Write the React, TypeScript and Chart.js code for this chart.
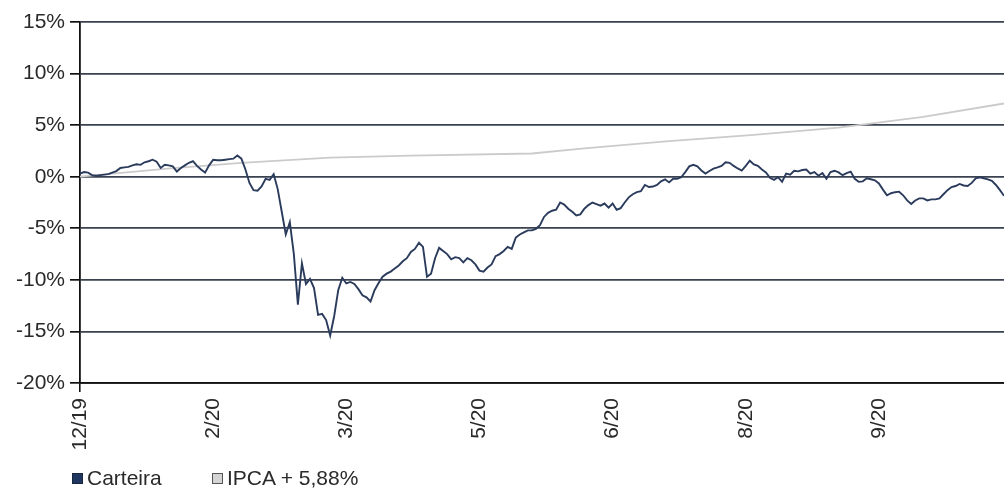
import React, { useEffect, useRef } from 'react';
import { Chart, registerables } from 'chart.js';

Chart.register(...registerables);

// Tick labels shown on the x axis, one every TICK_EVERY points
const tickLabels = ['12/19', '2/20', '3/20', '5/20', '6/20', '8/20', '9/20'];
const TICK_EVERY = 33;

// Carteira cumulative return (%)
const carteira = [
  0.3, 0.45, 0.4, 0.15, 0.1, 0.15, 0.2, 0.25, 0.4, 0.55,
  0.85, 0.9, 0.95, 1.1, 1.2, 1.15, 1.4, 1.5, 1.65, 1.45,
  0.85, 1.15, 1.1, 1.0, 0.5, 0.85, 1.1, 1.35, 1.5, 1.05,
  0.7, 0.4, 1.1, 1.65, 1.6, 1.6, 1.65, 1.7, 1.75, 2.05,
  1.75, 0.7, -0.6, -1.3, -1.35, -0.95, -0.2, -0.3, 0.25, -1.2,
  -3.4, -5.6, -4.4, -7.5, -12.4, -8.4, -10.4, -9.9, -10.8, -13.4,
  -13.3, -13.9, -15.4, -13.5, -11.0, -9.8, -10.35, -10.2, -10.4, -10.9,
  -11.5, -11.7, -12.1, -11.0, -10.3, -9.7, -9.4, -9.2, -8.9, -8.6,
  -8.2, -7.9, -7.3, -7.0, -6.4, -6.8, -9.7, -9.4, -7.9, -6.9,
  -7.2, -7.5, -8.0, -7.8, -7.9, -8.3, -7.9, -8.1, -8.5, -9.1,
  -9.2, -8.8, -8.5, -7.7, -7.5, -7.2, -6.8, -7.0, -5.9, -5.6,
  -5.4, -5.2, -5.2, -5.05, -4.7, -3.9, -3.5, -3.3, -3.2, -2.5,
  -2.7, -3.1, -3.4, -3.75, -3.65, -3.1, -2.75, -2.5, -2.65, -2.8,
  -2.6, -3.0, -2.6, -3.2, -3.05, -2.5, -2.0, -1.7, -1.5, -1.4,
  -0.8, -1.0, -0.95, -0.8, -0.45, -0.25, -0.55, -0.2, -0.2, -0.05,
  0.45, 1.0, 1.15, 1.0, 0.6, 0.3, 0.55, 0.78, 0.9, 1.05,
  1.4, 1.35, 1.05, 0.8, 0.6, 1.05, 1.55, 1.2, 1.05, 0.7,
  0.42, -0.1, -0.3, -0.05, -0.5, 0.3, 0.2, 0.58, 0.52, 0.65,
  0.7, 0.3, 0.45, 0.1, 0.35, -0.2, 0.45, 0.58, 0.42, 0.15,
  0.35, 0.5, -0.2, -0.5, -0.45, -0.15, -0.25, -0.35, -0.65, -1.25,
  -1.8, -1.6, -1.5, -1.45, -1.8, -2.3, -2.65, -2.3, -2.1, -2.1,
  -2.3, -2.2, -2.2, -2.1, -1.7, -1.3, -1.0, -0.9, -0.7, -0.85,
  -0.9, -0.6, -0.15, -0.05, -0.15, -0.25, -0.4, -0.8, -1.3, -1.85,
];

// IPCA + 5,88% benchmark, read at monthly points (position index, value %)
const ipcaIndex = [0, 21, 40, 62, 82, 112, 125, 146, 167, 188, 209, 229];
const ipcaValues = [0, 0.75, 1.35, 1.85, 2.05, 2.25, 2.75, 3.45, 4.05, 4.75, 5.8, 7.1];

const Y_MIN = -20;
const Y_MAX = 15;
const Y_STEP = 5;

const seriesNames = ['Carteira', 'IPCA + 5,88%'];

const FONT_FAMILY = "'Liberation Sans', Arial, Helvetica, sans-serif";
const W = 1004;
const H = 489;

export default function App() {
  const ref = useRef<HTMLCanvasElement | null>(null);

  useEffect(() => {
    if (!ref.current) return;
    const categories = carteira.map((_, i) => i);
    const font = { family: FONT_FAMILY, size: 21 };
    const chart = new Chart(ref.current, {
      type: 'line',
      data: {
        labels: categories,
        datasets: [
          {
            label: seriesNames[0],
            data: carteira,
            borderColor: '#2a3b5c',
            backgroundColor: '#1f3660',
            borderWidth: 1.9,
            pointRadius: 0,
            tension: 0,
          },
          {
            label: seriesNames[1],
            data: ipcaIndex.map((x, k) => ({ x, y: ipcaValues[k] })),
            borderColor: '#cbcbcb',
            backgroundColor: '#d0d0d0',
            borderWidth: 1.8,
            pointRadius: 0,
            tension: 0,
            spanGaps: true,
          },
        ],
      },
      options: {
        animation: false,
        responsive: true,
        maintainAspectRatio: false,
        layout: { padding: { top: 22, left: 0, right: 0, bottom: 0 } },
        plugins: {
          legend: { display: false },
          tooltip: { enabled: false },
        },
        scales: {
          x: {
            type: 'category',
            offset: false,
            grid: {
              drawOnChartArea: false,
              drawTicks: true,
              tickLength: 9,
              lineWidth: 1.6,
              color: (c: any) => (c.index % TICK_EVERY === 0 ? '#111' : 'rgba(0,0,0,0)'),
            },
            border: { display: true, color: '#111', width: 1.8 },
            ticks: {
              autoSkip: false,
              maxRotation: 90,
              minRotation: 90,
              padding: 6,
              color: '#2a2a2a',
              font,
              callback: (_v: any, i: number) =>
                i % TICK_EVERY === 0 && tickLabels[i / TICK_EVERY] !== undefined
                  ? tickLabels[i / TICK_EVERY]
                  : null,
            },
            afterFit: (s: any) => {
              s.height = H - 383;
            },
          },
          y: {
            min: Y_MIN,
            max: Y_MAX,
            ticks: {
              stepSize: Y_STEP,
              padding: 5,
              color: '#2a2a2a',
              font,
              callback: (v: any) => `${v}%`,
            },
            grid: {
              color: '#3a4250',
              lineWidth: 1.7,
              tickLength: 10,
              tickColor: '#111',
            },
            border: { display: true, color: '#111', width: 1.8 },
            afterFit: (s: any) => {
              s.width = 80;
            },
          },
        },
      },
    });
    return () => chart.destroy();
  }, []);

  const legendText: React.CSSProperties = {
    position: 'absolute',
    top: 0,
    fontFamily: FONT_FAMILY,
    fontSize: 21,
    lineHeight: '21px',
    color: '#2a2a2a',
    whiteSpace: 'nowrap',
  };
  const box: React.CSSProperties = {
    position: 'absolute',
    top: 6,
    width: 11,
    height: 11,
    boxSizing: 'border-box',
  };

  return (
    <div style={{ position: 'absolute', left: 0, top: 0, width: W, height: H, background: '#fff', overflow: 'hidden' }}>
      <div style={{ position: 'absolute', left: 0, top: 0, width: W, height: H }}>
        <canvas ref={ref} />
      </div>
      <div style={{ position: 'absolute', left: 0, top: 467, width: W, height: 22 }}>
        <span style={{ ...box, left: 72, background: '#1f3660', border: '1px solid #18263d' }} />
        <span style={{ ...legendText, left: 87 }}>{seriesNames[0]}</span>
        <span style={{ ...box, left: 212, background: '#d4d4d4', border: '1px solid #555' }} />
        <span style={{ ...legendText, left: 227 }}>{seriesNames[1]}</span>
      </div>
    </div>
  );
}
